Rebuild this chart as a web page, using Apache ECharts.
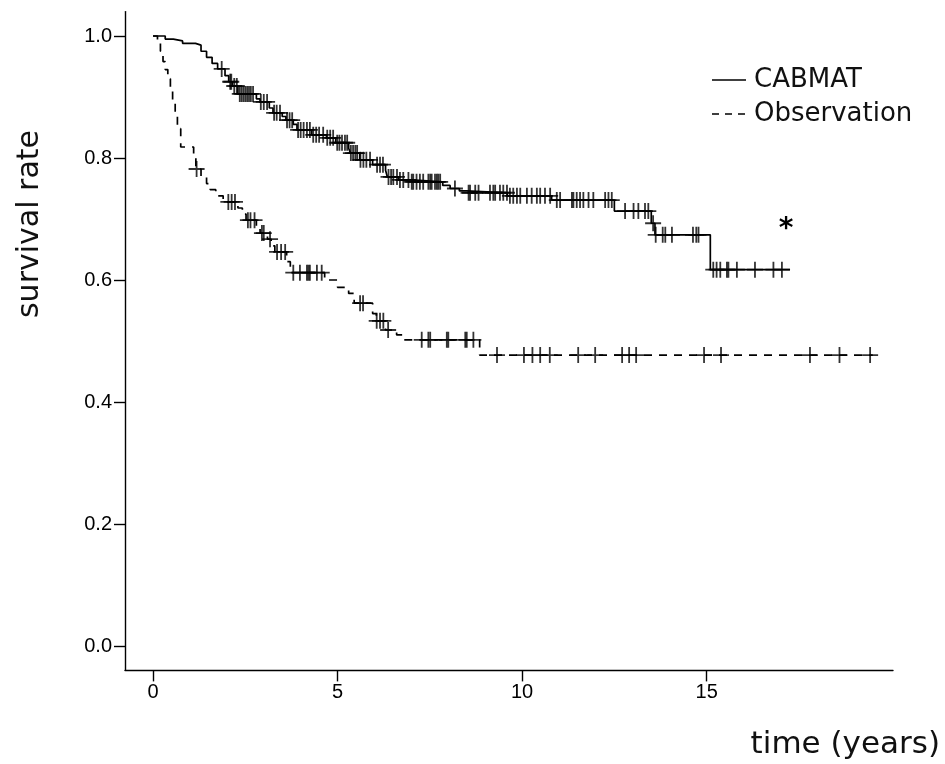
<!DOCTYPE html>
<html>
<head>
<meta charset="utf-8">
<script src="https://cdn.jsdelivr.net/npm/echarts@6/dist/echarts.min.js"></script>
<style>
html,body{margin:0;padding:0;background:#fff;}
#chart{width:945px;height:764px;}
</style>
</head>
<body>
<div id="chart"></div>
<script>
// ---- Data ----
const seriesNames = ['CABMAT', 'Observation'];

// CABMAT Kaplan-Meier steps
const cabTime = [0,0.33,0.55,0.8,1.15,1.3,1.45,1.6,1.75,1.95,2.05,2.15,2.3,2.8,2.9,3.15,3.25,3.5,3.6,3.8,3.9,4.3,4.7,4.95,5.3,5.35,5.6,5.95,6.3,6.35,6.65,7.0,7.85,8.05,8.3,8.5,9.6,10.8,12.5,13.5,13.6,15.1,17.26];
const cabSurv = [1.0,0.995,0.992,0.988,0.985,0.975,0.965,0.955,0.946,0.935,0.925,0.918,0.905,0.897,0.892,0.882,0.874,0.868,0.862,0.855,0.846,0.838,0.833,0.825,0.816,0.808,0.797,0.789,0.78,0.769,0.764,0.761,0.755,0.75,0.746,0.743,0.738,0.731,0.713,0.693,0.674,0.617,0.617];

// CABMAT censoring marks
const cabCensorTime = [1.86,2.09,2.12,2.2,2.27,2.35,2.4,2.45,2.5,2.55,2.6,2.65,2.71,2.92,3.0,3.09,3.28,3.35,3.44,3.63,3.7,3.77,3.93,4.0,4.08,4.17,4.25,4.34,4.42,4.5,4.61,4.72,4.8,4.88,4.99,5.05,5.12,5.2,5.26,5.36,5.42,5.48,5.53,5.62,5.7,5.78,5.88,6.07,6.15,6.23,6.38,6.45,6.51,6.61,6.69,6.78,6.92,7.01,7.05,7.14,7.23,7.32,7.46,7.51,7.55,7.64,7.69,7.73,7.78,8.18,8.55,8.59,8.73,8.82,9.13,9.22,9.27,9.4,9.49,9.59,9.67,9.76,9.86,9.95,10.13,10.26,10.4,10.49,10.62,10.76,10.94,11.03,11.35,11.39,11.48,11.57,11.66,11.8,11.93,12.25,12.34,12.43,12.79,13.02,13.15,13.33,13.42,13.55,13.62,13.81,13.88,14.06,14.63,14.72,14.78,15.18,15.27,15.37,15.55,15.59,15.82,16.31,16.81,17.04];
const cabCensorSurv = [0.946,0.925,0.925,0.918,0.918,0.905,0.905,0.905,0.905,0.905,0.905,0.905,0.905,0.892,0.892,0.892,0.874,0.874,0.874,0.862,0.862,0.862,0.846,0.846,0.846,0.846,0.846,0.838,0.838,0.838,0.838,0.833,0.833,0.833,0.825,0.825,0.825,0.825,0.825,0.808,0.808,0.808,0.808,0.797,0.797,0.797,0.797,0.789,0.789,0.789,0.769,0.769,0.769,0.769,0.764,0.764,0.764,0.761,0.761,0.761,0.761,0.761,0.761,0.761,0.761,0.761,0.761,0.761,0.761,0.75,0.743,0.743,0.743,0.743,0.743,0.743,0.743,0.743,0.743,0.743,0.738,0.738,0.738,0.738,0.738,0.738,0.738,0.738,0.738,0.738,0.731,0.731,0.731,0.731,0.731,0.731,0.731,0.731,0.731,0.731,0.731,0.731,0.713,0.713,0.713,0.713,0.713,0.693,0.674,0.674,0.674,0.674,0.674,0.674,0.674,0.617,0.617,0.617,0.617,0.617,0.617,0.617,0.617,0.617];

// Observation Kaplan-Meier steps
const obsTime = [0,0.12,0.2,0.27,0.33,0.4,0.47,0.53,0.6,0.66,0.75,1.1,1.16,1.3,1.45,1.55,1.7,1.9,2.3,2.42,2.52,2.8,2.9,3.1,3.2,3.3,3.62,3.72,4.65,5.0,5.3,5.45,5.95,6.05,6.3,6.6,6.8,8.85,19.5];
const obsSurv = [1.0,0.99,0.975,0.958,0.945,0.93,0.91,0.893,0.87,0.848,0.818,0.8,0.782,0.77,0.758,0.748,0.738,0.728,0.718,0.708,0.698,0.688,0.677,0.667,0.656,0.646,0.63,0.612,0.6,0.588,0.578,0.562,0.545,0.533,0.518,0.51,0.502,0.477,0.477];

// Observation censoring marks
const obsCensorTime = [1.18,2.04,2.13,2.22,2.57,2.64,2.75,2.95,3.0,3.17,3.36,3.47,3.58,3.8,3.98,4.17,4.21,4.25,4.44,4.57,5.61,5.69,6.06,6.15,6.24,6.37,7.28,7.46,7.51,7.96,8.0,8.46,8.5,8.68,9.32,10.05,10.28,10.49,10.75,11.52,11.98,12.71,12.9,13.09,14.93,15.39,17.8,18.6,19.43];
const obsCensorSurv = [0.782,0.728,0.728,0.728,0.698,0.698,0.698,0.677,0.677,0.667,0.646,0.646,0.646,0.612,0.612,0.612,0.612,0.612,0.612,0.612,0.562,0.562,0.533,0.533,0.533,0.518,0.502,0.502,0.502,0.502,0.502,0.502,0.502,0.502,0.477,0.477,0.477,0.477,0.477,0.477,0.477,0.477,0.477,0.477,0.477,0.477,0.477,0.477,0.477];

const xTickValues = [0, 5, 10, 15];
const yTickValues = [0, 0.2, 0.4, 0.6, 0.8, 1.0];
const xAxisTitle = 'time (years)';
const yAxisTitle = 'survival rate';
const annotationText = '*';

// ---- Build chart ----
const zip = (a, b) => a.map((v, i) => [v, b[i]]);
const plusSymbol = 'path://M0,7L14,7M7,0L7,14';
const chart = echarts.init(document.getElementById('chart'), null, {renderer: 'canvas'});

const axisLineStyle = {show: true, onZero: false, lineStyle: {color: '#000', width: 1.4}};
const labelStyle = {color: '#000', fontFamily: '"Liberation Sans", Arial, sans-serif', fontSize: 20};

chart.setOption({
  animation: false,
  backgroundColor: '#fff',
  grid: {left: 125, right: 52, top: 11.6, bottom: 93.6, containLabel: false},
  xAxis: {
    type: 'value', min: -0.76, max: 20.05,
    axisLine: axisLineStyle, splitLine: {show: false},
    axisTick: {show: true, length: 11, customValues: xTickValues, lineStyle: {color: '#000', width: 1.4}},
    axisLabel: Object.assign({}, labelStyle, {customValues: xTickValues, margin: 12})
  },
  yAxis: {
    type: 'value', min: -0.04, max: 1.04,
    axisLine: axisLineStyle, splitLine: {show: false},
    axisTick: {show: true, length: 11, customValues: yTickValues, lineStyle: {color: '#000', width: 1.4}},
    axisLabel: Object.assign({}, labelStyle, {customValues: yTickValues, margin: 13,
      formatter: v => v.toFixed(1)})
  },
  series: [
    {name: seriesNames[0], type: 'line', step: 'end', showSymbol: false, silent: true,
     data: zip(cabTime, cabSurv), lineStyle: {color: '#000', width: 1.7}},
    {name: seriesNames[1], type: 'line', step: 'end', showSymbol: false, silent: true,
     data: zip(obsTime, obsSurv), lineStyle: {color: '#000', width: 1.7, type: [8, 7]}},
    {name: seriesNames[0] + ' censored', type: 'scatter', symbol: plusSymbol, symbolSize: 16, silent: true,
     data: zip(cabCensorTime, cabCensorSurv),
     itemStyle: {color: 'rgba(0,0,0,0)', borderColor: '#000', borderWidth: 1.8}},
    {name: seriesNames[1] + ' censored', type: 'scatter', symbol: plusSymbol, symbolSize: 16, silent: true,
     data: zip(obsCensorTime, obsCensorSurv),
     itemStyle: {color: 'rgba(0,0,0,0)', borderColor: '#000', borderWidth: 1.8}}
  ],
  graphic: [
    // legend
    {type: 'line', shape: {x1: 712, y1: 80, x2: 746, y2: 80}, style: {stroke: '#000', lineWidth: 1.7}},
    {type: 'line', shape: {x1: 712, y1: 114, x2: 746, y2: 114}, style: {stroke: '#000', lineWidth: 1.7, lineDash: [7, 6]}},
    {type: 'text', x: 754, y: 80, style: {text: seriesNames[0], font: '26px "DejaVu Sans", sans-serif', fill: '#111', verticalAlign: 'middle'}},
    {type: 'text', x: 754, y: 114, style: {text: seriesNames[1], font: '26px "DejaVu Sans", sans-serif', fill: '#111', verticalAlign: 'middle'}},
    // axis titles
    {type: 'text', x: 30, y: 224, rotation: Math.PI / 2,
     style: {text: yAxisTitle, font: '30px "DejaVu Sans", sans-serif', fill: '#111', align: 'center', verticalAlign: 'middle'}},
    {type: 'text', x: 940, y: 745,
     style: {text: xAxisTitle, font: '31px "DejaVu Sans", sans-serif', fill: '#111', align: 'right', verticalAlign: 'middle'}},
    // significance marker
    {type: 'text', x: 786, y: 230,
     style: {text: annotationText, font: 'bold 28px "DejaVu Sans", sans-serif', fill: '#000', align: 'center', verticalAlign: 'middle'}}
  ]
});
</script>
</body>
</html>
